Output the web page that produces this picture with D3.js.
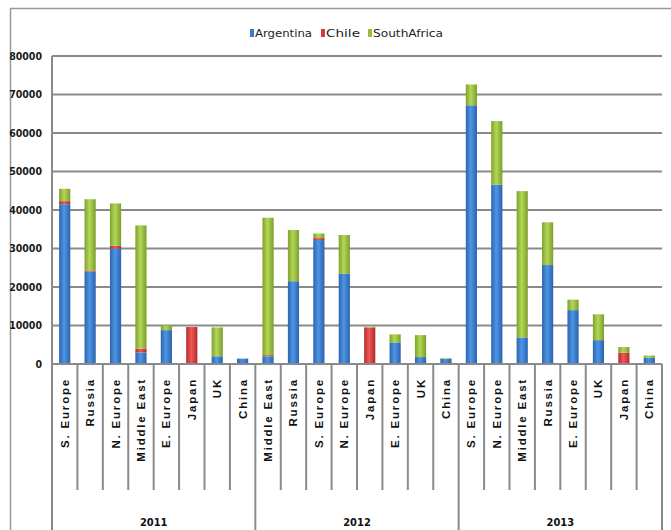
<!DOCTYPE html>
<html><head><meta charset="utf-8">
<script src="https://cdn.jsdelivr.net/npm/d3@7/dist/d3.min.js"></script>
<style>body{margin:0;background:#fff;}svg{display:block;}</style>
</head><body>
<svg id="c" width="671" height="530"></svg>
<script>
const categories = ["S.Europe","Russia","N.Europe","Middle East","E.Europe","Japan","UK","China",
  "Middle East","Russia","S.Europe","N.Europe","Japan","E.Europe","UK","China",
  "S.Europe","N.Europe","Middle East","Russia","E.Europe","UK","Japan","China"];
const years = ["2011","2012","2013"];
const perYear = 8;
const argentina = [41500,24000,30000,3000,8800,0,2000,1400, 2000,21500,32200,23500,0,5600,1800,1300, 67200,46600,6900,25700,14000,6200,0,1600];
const chile =     [800,300,700,1000,0,9600,0,0, 300,0,500,0,9500,0,0,0, 0,0,0,0,0,0,2900,0];
const southAfrica=[3200,18500,11000,32000,1200,0,7500,0, 35700,13300,1200,10000,200,2100,5700,200, 5400,16500,38000,11100,2700,6700,1500,600];
const seriesNames = ["Argentina","Chile","SouthAfrica"];
const yTicks = [0,10000,20000,30000,40000,50000,60000,70000,80000];
const colors = {Argentina:"#3a7bcc", Chile:"#d43a3a", SouthAfrica:"#9bbf3a"};

const svg = d3.select("#c");
const L = 52, R = 662, T = 56, B = 364;
const font = "'DejaVu Sans Condensed','Liberation Sans Narrow',Arial,sans-serif";

// gradients
const defs = svg.append("defs");
const shades = {Argentina:["#2a64b0","#4f95e4","#2a62ae"], Chile:["#b82a2a","#ec5a5a","#b52828"], SouthAfrica:["#7ea22a","#b3d65a","#7b9e28"]};
seriesNames.forEach(s=>{
  const g = defs.append("linearGradient").attr("id","g"+s).attr("x1","0").attr("x2","1").attr("y1","0").attr("y2","0");
  g.append("stop").attr("offset","0").attr("stop-color",shades[s][0]);
  g.append("stop").attr("offset","0.45").attr("stop-color",shades[s][1]);
  g.append("stop").attr("offset","1").attr("stop-color",shades[s][2]);
});

// outer frame
svg.append("line").attr("x1",10).attr("x2",671).attr("y1",8.5).attr("y2",8.5).attr("stroke","#999").attr("stroke-width",1.5);
svg.append("line").attr("x1",10.5).attr("x2",10.5).attr("y1",8).attr("y2",530).attr("stroke","#999").attr("stroke-width",1.5);

const idx = d3.range(categories.length);
const x = d3.scaleBand().domain(idx).range([L,R]).paddingInner(0.56).paddingOuter(0.28);
const y = d3.scaleLinear().domain([0,80000]).range([B,T]);

// gridlines
svg.append("g").selectAll("line").data(yTicks.filter(d=>d>0)).join("line")
  .attr("x1",L).attr("x2",R).attr("y1",d=>y(d)).attr("y2",d=>y(d))
  .attr("stroke","#8a8a8a").attr("stroke-width",2);

// y axis labels
const yAxis = d3.axisLeft(y).tickValues(yTicks).tickSize(0).tickPadding(10).tickFormat(d3.format("d"));
const ya = svg.append("g").attr("transform",`translate(${L},0)`).call(yAxis);
ya.select(".domain").remove();
ya.selectAll("text").attr("font-family",font).attr("font-size",10.5).attr("font-weight","bold").attr("fill","#1a1a1a");

// stacked bars
const table = idx.map(i=>({i, Argentina:argentina[i], Chile:chile[i], SouthAfrica:southAfrica[i]}));
const stack = d3.stack().keys(seriesNames)(table);
const bw = x.bandwidth();
stack.forEach(layer=>{
  const k = layer.key;
  svg.append("g").selectAll("rect").data(layer.filter(d=>d[1]-d[0]>0)).join("rect")
    .attr("x",d=>x(d.data.i)).attr("width",bw)
    .attr("y",d=>y(d[1])).attr("height",d=>y(d[0])-y(d[1]))
    .attr("fill",`url(#g${k})`);
});

// axis lines
svg.append("line").attr("x1",L).attr("x2",R).attr("y1",B).attr("y2",B).attr("stroke","#8a8a8a").attr("stroke-width",2);
svg.append("line").attr("x1",L).attr("x2",L).attr("y1",T).attr("y2",530).attr("stroke","#8a8a8a").attr("stroke-width",2);

// category dividers
const cw = (R-L)/categories.length;
const bounds = d3.range(1, categories.length+1);
svg.append("g").selectAll("line").data(bounds).join("line")
  .attr("x1",b=>L+b*cw).attr("x2",b=>L+b*cw)
  .attr("y1",B).attr("y2",b=> (b%perYear===0) ? 530 : 490)
  .attr("stroke","#8a8a8a").attr("stroke-width",2);

// category labels
svg.append("g").selectAll("text").data(idx).join("text")
  .attr("transform",i=>`translate(${L+(i+0.5)*cw+4},378) rotate(-90)`)
  .attr("text-anchor","end")
  .attr("font-family","Arial, 'Liberation Sans', sans-serif").attr("font-weight","bold")
  .attr("font-size",11.5).attr("letter-spacing",1.8).attr("fill","#111")
  .text(i=>categories[i].replace(".", ". "));

// year labels
svg.append("g").selectAll("text").data(years).join("text")
  .attr("x",(d,j)=>L+(j*perYear+perYear/2)*cw).attr("y",526)
  .attr("text-anchor","middle").attr("font-family",font).attr("font-weight","bold").attr("font-size",11).attr("fill","#111")
  .text(d=>d);

// legend
const legend = svg.append("g");
const legItems = [{k:"Argentina",x:250,w:57},{k:"Chile",x:321,w:34},{k:"SouthAfrica",x:368,w:70}];
legItems.forEach(it=>{
  legend.append("rect").attr("x",it.x).attr("y",29).attr("width",4).attr("height",8).attr("fill",colors[it.k]);
  legend.append("text").attr("x",it.x+5).attr("y",37).attr("font-family",font).attr("font-size",11)
    .attr("textLength",it.w).attr("lengthAdjust","spacingAndGlyphs").attr("fill","#222").text(it.k);
});
</script>
</body></html>
